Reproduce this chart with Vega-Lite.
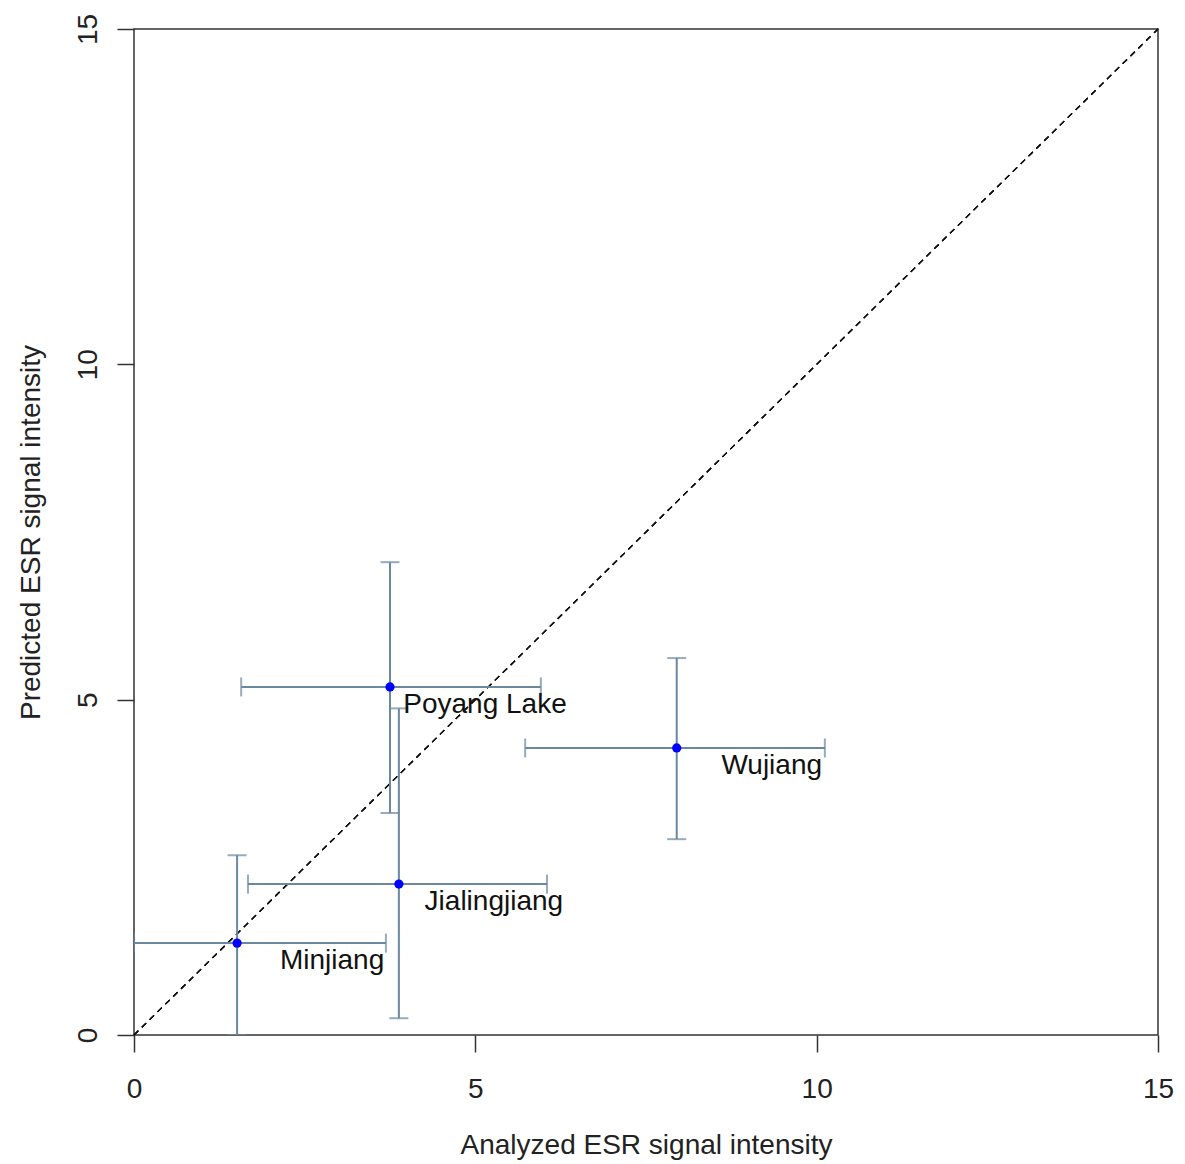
{
  "$schema": "https://vega.github.io/schema/vega-lite/v6.json",
  "autosize": "none",
  "width": 1024,
  "height": 1006,
  "padding": {"left": 134, "top": 29, "right": 27, "bottom": 129},
  "background": "white",
  "data": {
    "values": [
      {"site": "Poyang Lake", "x": 3.75, "y": 5.19, "xlo": 1.57, "xhi": 5.96, "ylo": 3.31, "yhi": 7.05},
      {"site": "Wujiang", "x": 7.95, "y": 4.28, "xlo": 5.73, "xhi": 10.12, "ylo": 2.92, "yhi": 5.62},
      {"site": "Jialingjiang", "x": 3.88, "y": 2.25, "xlo": 1.67, "xhi": 6.05, "ylo": 0.25, "yhi": 4.87},
      {"site": "Minjiang", "x": 1.51, "y": 1.37, "xlo": 0.0, "xhi": 3.69, "ylo": 0.0, "yhi": 2.68}
    ]
  },
  "layer": [
    {
      "mark": {"type": "rule", "color": "#111", "strokeWidth": 1.2, "strokeDash": [6, 5]},
      "encoding": {
        "x": {"datum": 0, "type": "quantitative", "title": "Analyzed ESR signal intensity",
              "scale": {"domain": [0, 15], "nice": false, "zero": false},
              "axis": {"values": [0, 5, 10, 15], "format": "d", "labelPadding": 23, "labelFlush": false, "labelOverlap": false, "titleY": 118, "titleBaseline": "alphabetic"}},
        "y": {"datum": 0, "type": "quantitative", "title": "Predicted ESR signal intensity",
              "scale": {"domain": [0, 15], "nice": false, "zero": false},
              "axis": {"values": [0, 5, 10, 15], "format": "d", "labelAngle": -90, "labelAlign": "center", "labelBaseline": "alphabetic", "labelPadding": 21, "labelFlush": false, "labelOverlap": false, "titleX": -95, "titleBaseline": "alphabetic"}},
        "x2": {"datum": 15},
        "y2": {"datum": 15}
      }
    },
    {
      "mark": {"type": "rule", "color": "#6A88A0", "strokeWidth": 2, "clip": true},
      "encoding": {
        "x": {"field": "x", "type": "quantitative", "title": "Analyzed ESR signal intensity"},
        "y": {"field": "ylo", "type": "quantitative", "title": "Predicted ESR signal intensity"},
        "y2": {"field": "yhi"}
      }
    },
    {
      "mark": {"type": "rule", "color": "#6A88A0", "strokeWidth": 2, "clip": true},
      "encoding": {
        "x": {"field": "xlo", "type": "quantitative", "title": "Analyzed ESR signal intensity"},
        "x2": {"field": "xhi"},
        "y": {"field": "y", "type": "quantitative", "title": "Predicted ESR signal intensity"}
      }
    },
    {
      "mark": {"type": "tick", "orient": "horizontal", "color": "#6A88A0", "size": 19, "thickness": 2, "clip": true},
      "encoding": {
        "x": {"field": "x", "type": "quantitative", "title": "Analyzed ESR signal intensity"},
        "y": {"field": "ylo", "type": "quantitative", "title": "Predicted ESR signal intensity"}
      }
    },
    {
      "mark": {"type": "tick", "orient": "horizontal", "color": "#6A88A0", "size": 19, "thickness": 2, "clip": true},
      "encoding": {
        "x": {"field": "x", "type": "quantitative", "title": "Analyzed ESR signal intensity"},
        "y": {"field": "yhi", "type": "quantitative", "title": "Predicted ESR signal intensity"}
      }
    },
    {
      "mark": {"type": "tick", "orient": "vertical", "color": "#6A88A0", "size": 19, "thickness": 2, "clip": true},
      "encoding": {
        "x": {"field": "xlo", "type": "quantitative", "title": "Analyzed ESR signal intensity"},
        "y": {"field": "y", "type": "quantitative", "title": "Predicted ESR signal intensity"}
      }
    },
    {
      "mark": {"type": "tick", "orient": "vertical", "color": "#6A88A0", "size": 19, "thickness": 2, "clip": true},
      "encoding": {
        "x": {"field": "xhi", "type": "quantitative", "title": "Analyzed ESR signal intensity"},
        "y": {"field": "y", "type": "quantitative", "title": "Predicted ESR signal intensity"}
      }
    },
    {
      "mark": {"type": "point", "filled": true, "shape": "circle", "color": "#0000FF", "size": 85, "opacity": 1},
      "encoding": {
        "x": {"field": "x", "type": "quantitative", "title": "Analyzed ESR signal intensity"},
        "y": {"field": "y", "type": "quantitative", "title": "Predicted ESR signal intensity"}
      }
    },
    {
      "mark": {"type": "text", "align": "center", "baseline": "middle", "dx": 95, "dy": 18, "fontSize": 28, "color": "#111"},
      "encoding": {
        "x": {"field": "x", "type": "quantitative", "title": "Analyzed ESR signal intensity"},
        "y": {"field": "y", "type": "quantitative", "title": "Predicted ESR signal intensity"},
        "text": {"field": "site"}
      }
    }
  ],
  "config": {
    "font": "Liberation Sans",
    "view": {"stroke": "#333", "strokeWidth": 1.5},
    "axis": {
      "grid": false, "domain": false, "ticks": true,
      "tickColor": "#333", "tickSize": 17, "tickWidth": 1.5,
      "labelFontSize": 28, "labelColor": "#222", "labelFont": "Liberation Sans",
      "titleFontSize": 28, "titleFontWeight": "normal", "titleColor": "#222", "titleFont": "Liberation Sans"
    }
  }
}
